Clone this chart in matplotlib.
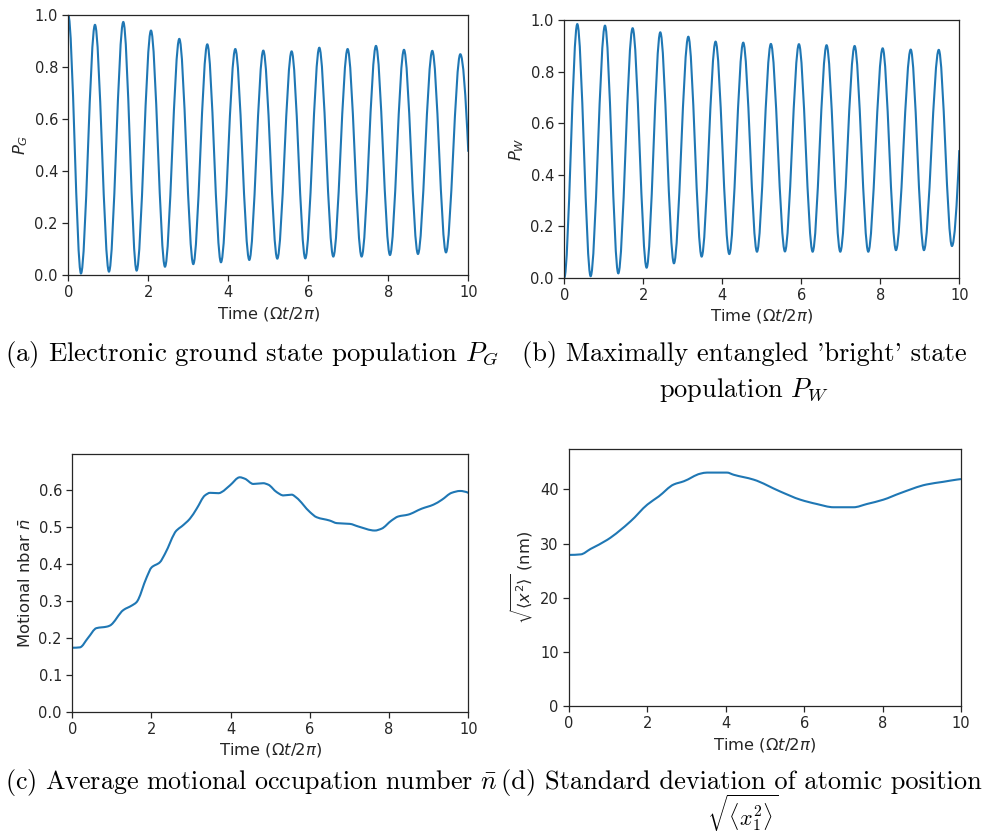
import numpy as np
import matplotlib
matplotlib.use("Agg")
import matplotlib.pyplot as plt
from matplotlib.path import Path
from matplotlib.patches import PathPatch

# ---------------- data ----------------
# (a) ground state population P_G : start, alternating extrema, end
pg_t = [0.0, 0.317, 0.667, 1.017, 1.375, 1.708, 2.067, 2.417, 2.775, 3.125,
        3.475, 3.817, 4.175, 4.525, 4.875, 5.225, 5.583, 5.925, 6.275, 6.625,
        6.983, 7.333, 7.692, 8.042, 8.392, 8.742, 9.100, 9.442, 9.800, 10.0]
pg_v = [1.000, 0.006, 0.962, 0.013, 0.973, 0.017, 0.940, 0.032, 0.908, 0.042,
        0.887, 0.049, 0.869, 0.058, 0.863, 0.063, 0.860, 0.064, 0.874, 0.071,
        0.869, 0.071, 0.881, 0.077, 0.866, 0.081, 0.862, 0.087, 0.849, 0.474]

# (b) bright state population P_W
pw_t = [0.0, 0.329, 0.667, 1.030, 1.367, 1.730, 2.084, 2.430, 2.776, 3.140,
        3.477, 3.830, 4.177, 4.530, 4.878, 5.230, 5.586, 5.940, 6.287, 6.640,
        6.987, 7.350, 7.696, 8.060, 8.397, 8.770, 9.105, 9.480, 9.814, 10.0]
pw_v = [0.000, 0.984, 0.006, 0.978, 0.017, 0.968, 0.039, 0.952, 0.056, 0.935,
        0.082, 0.916, 0.092, 0.912, 0.101, 0.907, 0.102, 0.906, 0.101, 0.902,
        0.101, 0.899, 0.101, 0.890, 0.107, 0.885, 0.107, 0.884, 0.123, 0.495]

# (c) motional nbar
nb_t = [0.0, 0.19, 0.40, 0.61, 0.87, 0.95, 1.29, 1.50, 1.62, 1.88, 2.00, 2.21,
        2.34, 2.63, 2.76, 2.97, 3.14, 3.35, 3.48, 3.70, 3.77, 3.98, 4.23, 4.36,
        4.57, 4.82, 4.95, 5.16, 5.33, 5.54, 5.66, 6.00, 6.17, 6.50, 6.68, 7.01,
        7.22, 7.64, 7.81, 8.06, 8.23, 8.48, 8.82, 9.12, 9.33, 9.58, 9.79, 10.0]
nb_v = [0.173, 0.174, 0.200, 0.226, 0.230, 0.233, 0.275, 0.287, 0.296, 0.364,
        0.390, 0.404, 0.427, 0.490, 0.501, 0.522, 0.549, 0.585, 0.592, 0.591,
        0.594, 0.612, 0.634, 0.630, 0.616, 0.618, 0.614, 0.594, 0.585, 0.587,
        0.579, 0.540, 0.526, 0.517, 0.510, 0.508, 0.501, 0.490, 0.495, 0.517,
        0.528, 0.533, 0.549, 0.560, 0.573, 0.592, 0.597, 0.592]

# (d) sqrt(<x^2>) in nm
sx_t = [0.0, 0.30, 0.55, 0.98, 1.57, 2.00, 2.29, 2.67, 2.93, 3.35, 3.52, 4.03,
        4.20, 4.71, 5.39, 5.90, 6.32, 6.75, 7.26, 7.60, 8.02, 8.45, 9.12, 9.55,
        9.89, 10.0]
sx_v = [27.9, 28.0, 29.0, 30.7, 34.1, 37.2, 38.7, 40.9, 41.5, 42.9, 43.1, 43.1,
        42.7, 41.8, 39.6, 38.1, 37.3, 36.7, 36.7, 37.3, 38.1, 39.3, 40.9, 41.4,
        41.8, 41.9]

xticks = [0, 2, 4, 6, 8, 10]
xlabel = r"Time ($\Omega t/2\pi$)"
ylabels = [r"$P_G$", r"$P_W$", r"Motional nbar $\bar{n}$",
           r"$\sqrt{\langle x^2 \rangle}$ (nm)"]
captions = [
    (r"(a) Electronic ground state population $P_G$", None),
    (r"(b) Maximally entangled 'bright' state", r"population $P_W$"),
    (r"(c) Average motional occupation number $\bar{n}$", None),
    (r"(d) Standard deviation of atomic position", r"$\sqrt{\langle x_1^2\rangle}$"),
]

LINE = "#1f77b4"


def smooth_patch(x, y, flat_start=False):
    """Monotone cubic (PCHIP-style) curve through the data points, drawn as
    Bezier segments by matplotlib's Path machinery."""
    x = np.asarray(x, float)
    y = np.asarray(y, float)
    n = len(x)
    h = np.diff(x)
    dl = np.diff(y) / h
    d = np.zeros(n)
    for k in range(1, n - 1):
        if dl[k - 1] * dl[k] > 0:
            w1 = 2 * h[k] + h[k - 1]
            w2 = h[k] + 2 * h[k - 1]
            d[k] = (w1 + w2) / (w1 / dl[k - 1] + w2 / dl[k])

    def edge(h0, h1, m0, m1):
        e = ((2 * h0 + h1) * m0 - h0 * m1) / (h0 + h1)
        if np.sign(e) != np.sign(m0):
            e = 0.0
        elif np.sign(m0) != np.sign(m1) and abs(e) > 3 * abs(m0):
            e = 3 * m0
        return e

    d[0] = 0.0 if flat_start else edge(h[0], h[1], dl[0], dl[1])
    d[-1] = edge(h[-1], h[-2], dl[-1], dl[-2])
    verts = [(x[0], y[0])]
    codes = [Path.MOVETO]
    for k in range(n - 1):
        hk = h[k]
        verts += [(x[k] + hk / 3, y[k] + d[k] * hk / 3),
                  (x[k + 1] - hk / 3, y[k + 1] - d[k + 1] * hk / 3),
                  (x[k + 1], y[k + 1])]
        codes += [Path.CURVE4] * 3
    return Path(verts, codes)


fig = plt.figure(figsize=(9.87, 8.34), dpi=100)
W, H = 987.0, 834.0


def make_ax(l, r, t, b):
    return fig.add_axes([l / W, 1 - b / H, (r - l) / W, (b - t) / H])


axes = [make_ax(68.3, 468.3, 15.0, 275.0),
        make_ax(564.3, 959.3, 20.0, 277.7),
        make_ax(72.3, 468.3, 454.0, 711.7),
        make_ax(569.0, 961.0, 449.3, 706.0)]

series = [(pg_t, pg_v, True), (pw_t, pw_v, True),
          (nb_t, nb_v, False), (sx_t, sx_v, False)]
ylims = [(0, 1.0), (0, 1.0), (0, 0.697), (0, 47.4)]
yticks = [np.round(np.arange(0, 1.01, 0.2), 1), np.round(np.arange(0, 1.01, 0.2), 1),
          np.round(np.arange(0, 0.61, 0.1), 1), np.arange(0, 41, 10)]

TICK_FS = 10.5
LABEL_FS = 11.8
TXT = "#262626"
for i, ax in enumerate(axes):
    t, v, flat = series[i]
    p = smooth_patch(t, v, flat_start=flat)
    ax.add_patch(PathPatch(p, facecolor="none", edgecolor=LINE, lw=1.5,
                           transform=ax.transData, capstyle="butt"))
    ax.set_xlim(0, 10)
    ax.set_ylim(*ylims[i])
    ax.set_xticks(xticks)
    ax.set_yticks(yticks[i])
    if i in (0, 1, 2):
        ax.set_yticklabels([f"{val:.1f}" for val in yticks[i]])
    ax.tick_params(labelsize=TICK_FS, colors=TXT, width=0.9, length=4)
    for s in ax.spines.values():
        s.set_color(TXT)
        s.set_linewidth(0.9)
    ax.set_xlabel(xlabel, fontsize=LABEL_FS, color=TXT, labelpad=3)
    ax.set_ylabel(ylabels[i], fontsize=LABEL_FS, color=TXT, labelpad=3)

cap_kw = dict(family="cmr10", math_fontfamily="cm", color="black")
fig.text(5 / W, 1 - 355 / H, captions[0][0], ha="left", va="center",
         fontsize=19.3, **cap_kw)
fig.text(522 / W, 1 - 355 / H, captions[1][0], ha="left", va="center",
         fontsize=19.0, **cap_kw)
fig.text(744 / W, 1 - 390 / H, captions[1][1], ha="center", va="center",
         fontsize=19.0, **cap_kw)
fig.text(5 / W, 1 - 783 / H, captions[2][0], ha="left", va="center",
         fontsize=18.7, **cap_kw)
fig.text(501 / W, 1 - 783 / H, captions[3][0], ha="left", va="center",
         fontsize=19.0, **cap_kw)
fig.text(743 / W, 1 - 834 / H, captions[3][1], ha="center", va="bottom",
         fontsize=16.0, **cap_kw)

fig.savefig("out.png", dpi=100)
